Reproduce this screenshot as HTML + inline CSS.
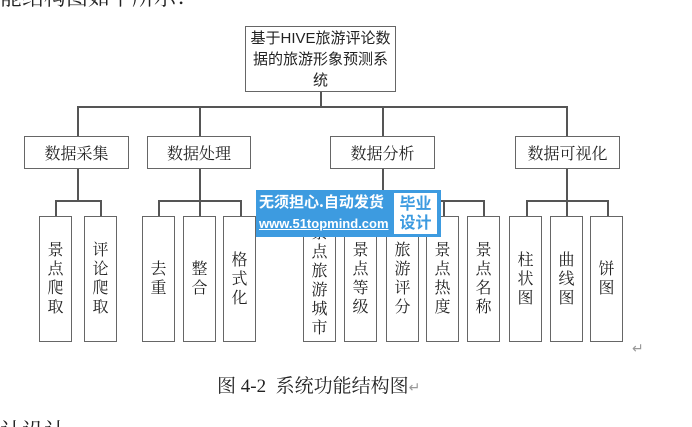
<!DOCTYPE html>
<html style="width:692px;height:427px;overflow:hidden"><head><meta charset="utf-8"><style>
body{margin:0;width:692px;height:427px;background:#fff;position:relative;overflow:hidden;font-family:"Liberation Serif","Noto Serif CJK SC","Noto Sans CJK SC",serif;color:#222}
.b{position:absolute;border:1.5px solid #666;box-sizing:border-box;background:#fff;display:flex;align-items:center;justify-content:center;text-align:center}
.l2{top:136px;height:33px;font-size:16px}
.l3{top:216px;height:126px;width:33px;font-size:16px;line-height:19px;word-break:break-all;padding:0 8px}
.h{position:absolute;height:1.5px;background:#555}
.v{position:absolute;width:1.5px;background:#555}
</style></head><body>
<div style="position:absolute;left:0;top:-19px;font-size:22px;white-space:nowrap">能结构图如下所示：</div>
<div style="position:absolute;left:0;top:419px;font-size:22px;line-height:26px;white-space:nowrap">计设计</div>

<div class="b" style="left:245px;top:26px;width:151px;height:66px;font-size:15px;line-height:21px;font-family:'Liberation Sans','Noto Sans CJK SC',sans-serif;padding:0 3px">基于HIVE旅游评论数据的旅游形象预测系统</div>
<div class="v" style="left:320px;top:92px;height:15px"></div>
<div class="h" style="left:77px;top:106px;width:490px"></div>
<div class="v" style="left:77px;top:106px;height:30px"></div>
<div class="v" style="left:199px;top:106px;height:30px"></div>
<div class="v" style="left:382px;top:106px;height:30px"></div>
<div class="v" style="left:566px;top:106px;height:30px"></div>

<div class="b l2" style="left:24px;width:105px">数据采集</div>
<div class="b l2" style="left:147px;width:104px">数据处理</div>
<div class="b l2" style="left:330px;width:105px">数据分析</div>
<div class="b l2" style="left:515px;width:105px">数据可视化</div>

<div class="v" style="left:77px;top:169px;height:31px"></div>
<div class="v" style="left:199px;top:169px;height:31px"></div>
<div class="v" style="left:382px;top:169px;height:31px"></div>
<div class="v" style="left:566px;top:169px;height:31px"></div>

<div class="h" style="left:55px;top:200px;width:46px"></div>
<div class="v" style="left:55px;top:200px;height:16px"></div>
<div class="v" style="left:100px;top:200px;height:16px"></div>

<div class="h" style="left:158px;top:200px;width:83px"></div>
<div class="v" style="left:158px;top:200px;height:16px"></div>
<div class="v" style="left:199px;top:200px;height:16px"></div>
<div class="v" style="left:240px;top:200px;height:16px"></div>

<div class="h" style="left:320px;top:200px;width:164px"></div>
<div class="v" style="left:320px;top:200px;height:16px"></div>
<div class="v" style="left:360px;top:200px;height:16px"></div>
<div class="v" style="left:402px;top:200px;height:16px"></div>
<div class="v" style="left:443px;top:200px;height:16px"></div>
<div class="v" style="left:483px;top:200px;height:16px"></div>

<div class="h" style="left:526px;top:200px;width:82px"></div>
<div class="v" style="left:526px;top:200px;height:16px"></div>
<div class="v" style="left:566px;top:200px;height:16px"></div>
<div class="v" style="left:607px;top:200px;height:16px"></div>

<div class="b l3" style="left:39px">景点爬取</div>
<div class="b l3" style="left:84px">评论爬取</div>
<div class="b l3" style="left:142px">去重</div>
<div class="b l3" style="left:183px">整合</div>
<div class="b l3" style="left:223px">格式化</div>
<div class="b l3" style="left:303px;padding-top:4px">景点旅游城市</div>
<div class="b l3" style="left:344px">景点等级</div>
<div class="b l3" style="left:386px">旅游评分</div>
<div class="b l3" style="left:426px">景点热度</div>
<div class="b l3" style="left:467px">景点名称</div>
<div class="b l3" style="left:509px">柱状图</div>
<div class="b l3" style="left:550px">曲线图</div>
<div class="b l3" style="left:590px">饼图</div>

<div style="position:absolute;left:256px;top:190px;width:185px;height:47px;background:#3d9be0"></div>
<div style="position:absolute;left:259px;top:191px;width:134px;font-family:'Noto Sans CJK SC',sans-serif;font-weight:bold;color:#fff;font-size:15px;line-height:21px;white-space:nowrap">无须担心.自动发货</div>
<div style="position:absolute;left:259px;top:215px;width:134px;font-family:'Liberation Sans',sans-serif;font-weight:bold;color:#fff;font-size:13px;line-height:18px;white-space:nowrap;text-decoration:underline">www.51topmind.com</div>
<div style="position:absolute;left:394px;top:193px;width:43px;height:41px;background:#fff;color:#3d9be0;font-family:'Noto Sans CJK SC',sans-serif;font-weight:bold;font-size:16px;line-height:19px;text-align:center">毕业<br>设计</div>

<div style="position:absolute;left:632px;top:341px;color:#999;font-size:14px">↵</div>
<div style="position:absolute;left:217px;top:371px;font-size:19px;white-space:nowrap">图 4-2&nbsp; 系统功能结构图<span style="color:#999;font-size:14px">↵</span></div>
</body></html>
